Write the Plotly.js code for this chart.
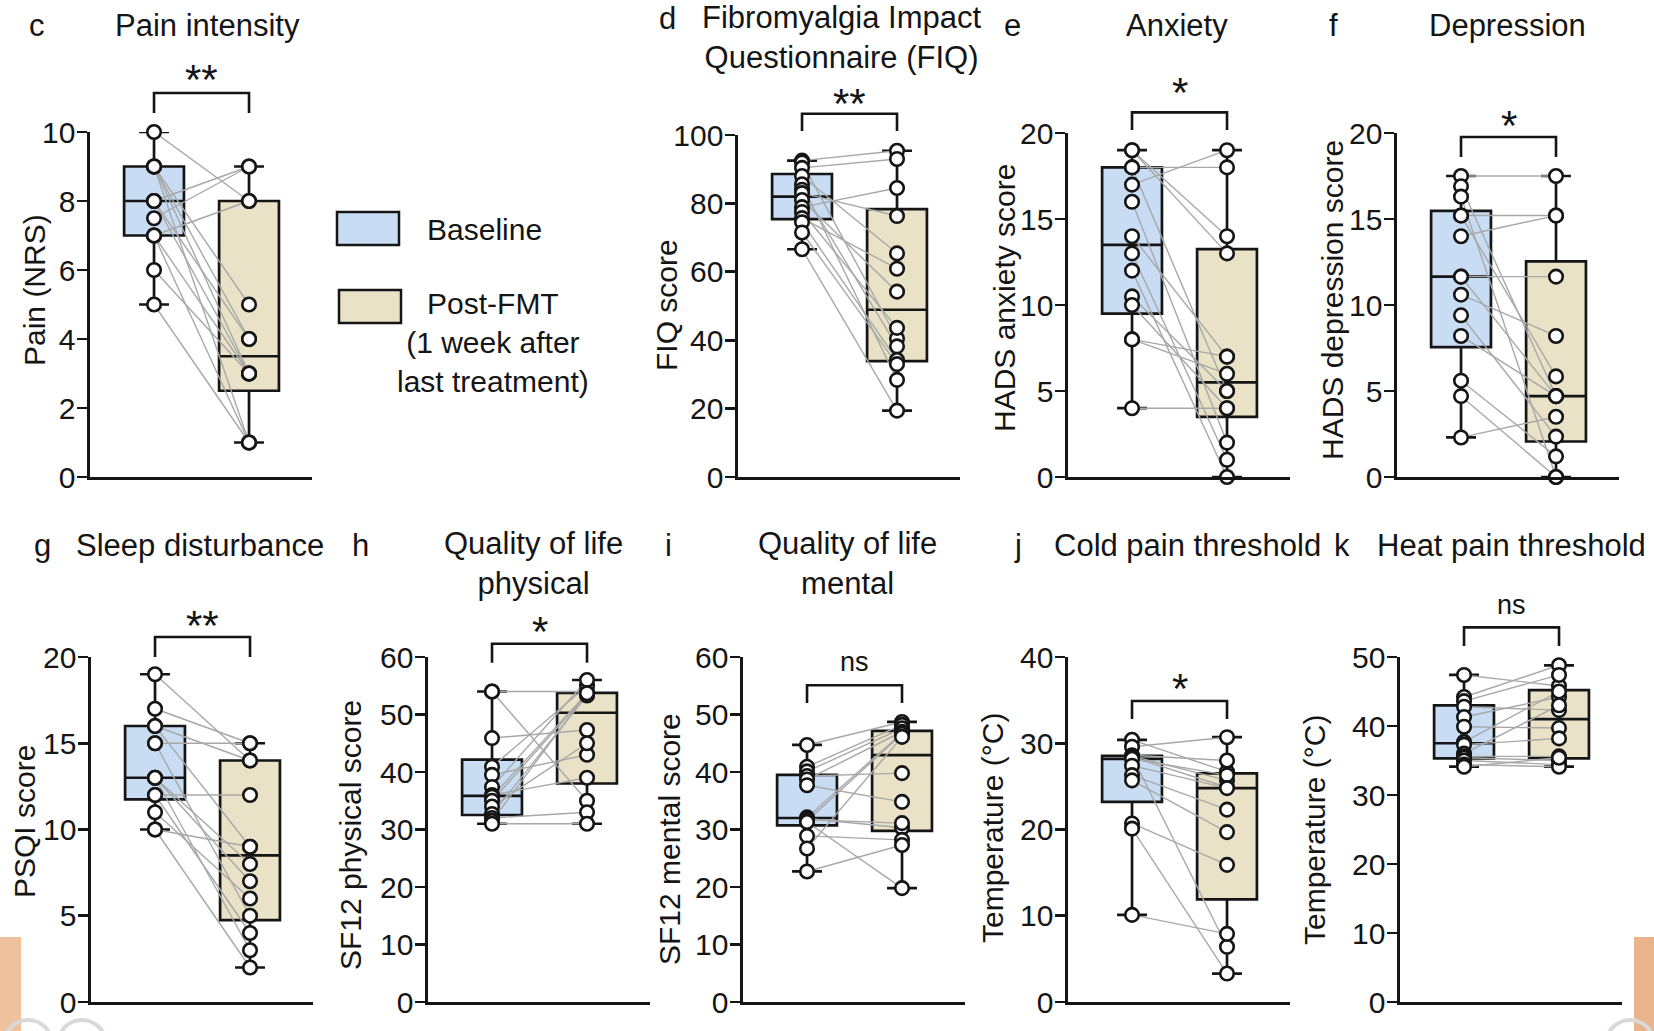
<!DOCTYPE html>
<html><head><meta charset="utf-8">
<script src="https://cdn.plot.ly/plotly-3.0.1.min.js"></script>
<style>html,body{margin:0;padding:0;background:#fff;overflow:hidden;} #chart{width:1654px;height:1031px;}</style>
</head><body><div id="chart"></div>
<script>
// ---------------- data (paired: index j = same participant) ----------------
const groups = ['Baseline', 'Post-FMT'];
const groupColors = ['#c8ddf4', '#e9e2c6'];

const painBase = [10, 9, 9, 9, 9, 8, 8, 8, 7.5, 7, 7, 7, 6, 5];
const painPost = [8, 5, 4, 3, 1, 9, 3, 4, 9, 8, 3, 1, 3, 1];

const fiqBase = [92.5, 92, 90.4, 88, 85.6, 84, 83, 81, 78.9, 77.5, 75.7, 74.5, 71.5, 66.6];
const fiqPost = [95.4, 40.5, 93, 65.4, 28.4, 38.2, 76.3, 54.2, 84.5, 43.6, 60.9, 34.2, 33.0, 19.4];

const anxBase = [19, 19, 18, 18, 17, 16, 14, 13, 12, 10.5, 10, 8, 8, 4];
const anxPost = [14, 13, 18, 5, 19, 2, 7, 1, 0, 5, 4, 7, 6, 4];

const depBase = [17.5, 16.9, 16.3, 15.2, 15.2, 14.0, 11.65, 11.65, 10.6, 9.4, 8.2, 5.6, 4.7, 2.3];
const depPost = [17.5, 4.7, 0, 15.2, 5.85, 15.2, 11.65, 4.7, 8.2, 2.35, 4.7, 1.2, 0, 3.5];

const psqiBase = [19, 17, 16, 16, 15, 15, 13, 13, 13, 12, 12, 11, 10, 10];
const psqiPost = [14, 15, 14, 9, 15, 5, 8, 7, 3, 12, 4, 6, 9, 2];

const sf12PhysBase = [54, 54, 45.9, 40.9, 39.5, 37.4, 36, 35.7, 35, 34, 32.7, 32, 31.5, 31];
const sf12PhysPost = [54, 35, 47.3, 55, 43, 56, 39, 53.7, 53.5, 45, 53.3, 33, 53.7, 31];

const sf12MentBase = [44.7, 40.9, 40.1, 39.3, 38.7, 37.7, 32.1, 31.9, 31.7, 31.5, 31.3, 28.9, 26.7, 22.7];
const sf12MentPost = [48.7, 48.2, 47.6, 39.8, 47.0, 34.8, 46.8, 30.3, 31.1, 46.6, 19.8, 28.2, 46.1, 27.3];

const coldBase = [30.4, 29.6, 28.6, 28.5, 28.5, 28.4, 28.2, 27.4, 26.3, 25.7, 20.7, 20.1, 10.1];
const coldPost = [26.7, 30.7, 28.0, 25.7, 6.4, 24.9, 26.3, 24.8, 22.3, 19.7, 15.9, 3.3, 7.9];

const heatBase = [47.4, 44.2, 43.6, 42.8, 41.3, 39.9, 37.7, 37.3, 36.0, 35.6, 35.4, 35.0, 34.4, 34.1];
const heatPost = [45.8, 48.8, 47.4, 42.3, 44.2, 39.7, 45.0, 38.2, 43.0, 35.6, 35.0, 34.4, 34.1, 35.4];

const significance = ['**', '**', '*', '*', '**', '*', 'ns', '*', 'ns'];

// ---------------- panel layout ----------------
const W = 1654, H = 1031;
const XR = [-0.674, 1.663];
const AXW = 222;
const FONT = 'Liberation Sans, Arial, Helvetica, sans-serif';
const INK = '#151515';
function px(x) { return x / W; }
function py(y) { return 1 - y / H; }

const panels = [
  {letter:'c', title:'Pain intensity', yt:'Pain (NRS)', base:painBase, post:painPost, left:90, top:132, bottom:477, ymax:10, dtick:2,
   br:[10.55, 11.13], sy:11.74, lx:37, ly:25, tx:207, ty:25, ta:'center', ytx:34, yty:290},
  {letter:'d', title:'Fibromyalgia Impact<br>Questionnaire (FIQ)', yt:'FIQ score', base:fiqBase, post:fiqPost, left:738, top:135, bottom:477, ymax:100, dtick:20,
   br:[101.2, 106.2], sy:111.6, lx:667, ly:18, tx:842, ty:38, ta:'center', ytx:666, yty:305},
  {letter:'e', title:'Anxiety', yt:'HADS anxiety score', base:anxBase, post:anxPost, left:1068, top:133, bottom:477, ymax:20, dtick:5,
   br:[20.17, 21.2], sy:22.8, lx:1012, ly:25, tx:1177, ty:25, ta:'center', ytx:1004, yty:298},
  {letter:'f', title:'Depression', yt:'HADS depression score', base:depBase, post:depPost, left:1397, top:133, bottom:477, ymax:20, dtick:5,
   br:[18.6, 19.77], sy:20.9, lx:1333, ly:25, tx:1507, ty:25, ta:'center', ytx:1332, yty:300},
  {letter:'g', title:'Sleep disturbance', yt:'PSQI score', base:psqiBase, post:psqiPost, left:91, top:657, bottom:1002, ymax:20, dtick:5,
   br:[20.0, 21.16], sy:22.3, lx:42, ly:545, tx:200, ty:545, ta:'center', ytx:24, yty:822},
  {letter:'h', title:'Quality of life<br>physical', yt:'SF12 physical score', base:sf12PhysBase, post:sf12PhysPost, left:428, top:657, bottom:1002, ymax:60, dtick:10,
   br:[59.0, 62.3], sy:65.9, lx:360, ly:545, tx:533, ty:563, ta:'center', ytx:350, yty:835},
  {letter:'i', title:'Quality of life<br>mental', yt:'SF12 mental score', base:sf12MentBase, post:sf12MentPost, left:743, top:657, bottom:1002, ymax:60, dtick:10,
   br:[52.0, 55.1], sy:59.1, lx:668, ly:545, tx:847, ty:563, ta:'center', ytx:669, yty:839},
  {letter:'j', title:'Cold pain threshold', yt:'Temperature (°C)', base:coldBase, post:coldPost, left:1068, top:657, bottom:1002, ymax:40, dtick:10,
   br:[32.8, 34.9], sy:37.3, lx:1018, ly:545, tx:1053, ty:545, ta:'left', ytx:992, yty:828},
  {letter:'k', title:'Heat pain threshold', yt:'Temperature (°C)', base:heatBase, post:heatPost, left:1400, top:657, bottom:1002, ymax:50, dtick:10,
   br:[51.6, 54.3], sy:57.5, lx:1342, ly:545, tx:1376, ty:545, ta:'left', ytx:1314, yty:830}
];

// exclusive (n+1)p quantile, as used by GraphPad Prism
function quant(arr, p) {
  const s = [...arr].sort((a, b) => a - b);
  const n = s.length, h = (n + 1) * p, lo = Math.floor(h), f = h - lo;
  if (lo < 1) return s[0];
  if (lo >= n) return s[n - 1];
  return s[lo - 1] + f * (s[lo] - s[lo - 1]);
}

const traces = [], shapes = [], annotations = [];
const layout = {
  width: W, height: H, margin: {l:0, r:0, t:0, b:0}, paper_bgcolor:'#fff', plot_bgcolor:'rgba(0,0,0,0)',
  showlegend: false, font: {family: FONT, color: INK}, hovermode: false
};

const xd0 = (0 - XR[0]) / (XR[1] - XR[0]);
const xd1 = (1 - XR[0]) / (XR[1] - XR[0]);
const xdm = (0.5 - XR[0]) / (XR[1] - XR[0]);

panels.forEach((P, i) => {
  const k = i === 0 ? '' : String(i + 1);
  const xa = 'x' + k, ya = 'y' + k;
  layout['xaxis' + k] = {domain:[px(P.left), px(P.left + AXW)], range:XR, anchor:ya, showline:true, linewidth:2.6, linecolor:INK,
    showticklabels:false, ticks:'', showgrid:false, zeroline:false, fixedrange:true};
  layout['yaxis' + k] = {domain:[py(P.bottom), py(P.top)], range:[0, P.ymax], anchor:xa, tick0:0, dtick:P.dtick, ticks:'outside',
    ticklen:10, tickwidth:2.6, tickcolor:INK, showline:true, linewidth:2.6, linecolor:INK, showgrid:false, zeroline:false,
    ticklabelstandoff:-4, tickfont:{size:30, color:INK, family:FONT}, fixedrange:true};

  [P.base, P.post].forEach((vals, g) => {
    traces.push({type:'box', name:groups[g], x:[g], q1:[quant(vals, 0.25)], median:[quant(vals, 0.5)], q3:[quant(vals, 0.75)],
      lowerfence:[Math.min(...vals)], upperfence:[Math.max(...vals)], width:0.63, whiskerwidth:0.5, boxpoints:false,
      fillcolor:groupColors[g], line:{color:INK, width:2.7}, xaxis:xa, yaxis:ya, hoverinfo:'skip'});
  });

  const lx = [], ly = [];
  P.base.forEach((b, j) => { lx.push(0, 1, null); ly.push(b, P.post[j], null); });
  traces.push({type:'scatter', mode:'lines', x:lx, y:ly, line:{color:'#a8a8a8', width:1.4}, xaxis:xa, yaxis:ya, hoverinfo:'skip', connectgaps:false});

  traces.push({type:'scatter', mode:'markers', x:P.base.map(() => 0).concat(P.post.map(() => 1)), y:P.base.concat(P.post),
    marker:{symbol:'circle', size:13.5, color:'#ffffff', line:{color:INK, width:2.6}}, cliponaxis:false, xaxis:xa, yaxis:ya, hoverinfo:'skip'});

  // significance bracket
  const yb = P.br[0] / P.ymax, yt = P.br[1] / P.ymax;
  shapes.push({type:'path', xref:xa + ' domain', yref:ya + ' domain',
    path:`M ${xd0},${yb} L ${xd0},${yt} L ${xd1},${yt} L ${xd1},${yb}`, line:{color:INK, width:2.6}});
  const sig = significance[i];
  const isStar = sig !== 'ns';
  annotations.push({xref:xa + ' domain', yref:ya + ' domain', x:xdm, y:P.sy / P.ymax, text:sig, showarrow:false, xanchor:'center', yanchor:'middle',
    yshift: isStar ? -8 : 0, borderpad:0, font:{size: isStar ? 42 : 27, color:INK, family:FONT}});

  // panel letter, title, y title
  annotations.push({xref:'paper', yref:'paper', x:px(P.lx), y:py(P.ly), text:P.letter, showarrow:false, xanchor:'center', yanchor:'middle',
    font:{size:31, color:INK, family:FONT}});
  annotations.push({xref:'paper', yref:'paper', x:px(P.tx), y:py(P.ty), text:P.title, showarrow:false, xanchor:P.ta, yanchor:'middle',
    align:'center', borderpad:0, font:{size:31, color:INK, family:FONT}});
  annotations.push({xref:'paper', yref:'paper', x:px(P.ytx), y:py(P.yty), text:P.yt, showarrow:false, textangle:-90,
    xanchor:'center', yanchor:'middle', font:{size:30, color:INK, family:FONT}});
});

// legend (drawn)
shapes.push({type:'rect', xref:'paper', yref:'paper', x0:px(337), x1:px(399), y0:py(245), y1:py(212), fillcolor:groupColors[0], line:{color:INK, width:2.5}});
shapes.push({type:'rect', xref:'paper', yref:'paper', x0:px(339), x1:px(401), y0:py(323), y1:py(290), fillcolor:groupColors[1], line:{color:INK, width:2.5}});
annotations.push({xref:'paper', yref:'paper', x:px(425), y:py(229), text:groups[0], showarrow:false, xanchor:'left', yanchor:'middle',
  font:{size:30, color:INK, family:FONT}});
annotations.push({xref:'paper', yref:'paper', x:px(493), y:py(343), text:groups[1] + '<br>(1 week after<br>last treatment)', showarrow:false,
  xanchor:'center', yanchor:'middle', align:'center', font:{size:30, color:INK, family:FONT}});

// page-edge decorations visible in the reference screenshot
shapes.push({type:'rect', xref:'paper', yref:'paper', x0:0, x1:px(21), y0:0, y1:py(937), fillcolor:'#efc19c', line:{width:0}, layer:'below'});
shapes.push({type:'rect', xref:'paper', yref:'paper', x0:px(1634), x1:1, y0:0, y1:py(937), fillcolor:'#e9b48c', line:{width:0}, layer:'below'});
shapes.push({type:'circle', xref:'paper', yref:'paper', x0:px(4), x1:px(52), y0:py(1068), y1:py(1020), line:{color:'#d9d9d9', width:4}, layer:'below'});
shapes.push({type:'circle', xref:'paper', yref:'paper', x0:px(58), x1:px(106), y0:py(1068), y1:py(1020), line:{color:'#d9d9d9', width:4}, layer:'below'});
shapes.push({type:'circle', xref:'paper', yref:'paper', x0:px(1606), x1:px(1654), y0:py(1068), y1:py(1020), line:{color:'#d9d9d9', width:4}, layer:'below'});

layout.shapes = shapes;
layout.annotations = annotations;

Plotly.newPlot('chart', traces, layout, {staticPlot:true, displayModeBar:false});
</script>
</body></html>
